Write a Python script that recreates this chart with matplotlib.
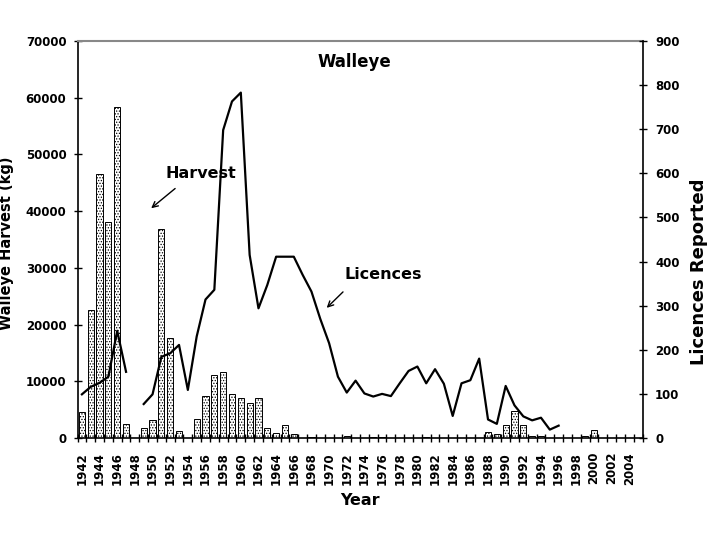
import matplotlib
matplotlib.use('Agg')
import matplotlib.pyplot as plt
import numpy as np

# Walleye harvest (kg) and licences reported, 1942-2005
years = list(range(1942, 2006))
harvest = [4500, 22500, 46500, 38000, 58300, 2400, 0, 1800, 3200, 36900,
           17600, 1200, 0, 3300, 7400, 11100, 11600, 7800, 7100, 6100,
           7100, 1800, 900, 2300, 650, 0, 250, 0, 0, 0,
           350, 0, 0, 150, 150, 0, 0, 0, 0, 150,
           0, 0, 0, 0, 0, 0, 1000, 650, 2250, 4800,
           2250, 400, 400, 0, 0, 0, 0, 400, 1450, 0,
           0, 0, 0, 0]
nan = np.nan
licences = [99, 116, 125, 139, 243, 150, nan, 77, 99, 184,
            192, 211, 109, 230, 314, 336, 698, 763, 783, 415,
            294, 347, 411, 411, 411, 370, 332, 270, 215, 139,
            103, 130, 101, 94, 100, 95, 124, 152, 162, 124,
            156, 123, 50, 124, 131, 180, 42, 32, 118, 74,
            49, 40, 46, 19, 28, nan, nan, nan, nan, nan,
            nan, nan, nan, nan]
year_labels = [str(y) for y in years[::2]]

plt.rcParams['font.family'] = 'DejaVu Sans'
plt.rcParams['font.weight'] = 'bold'
plt.rcParams['hatch.linewidth'] = 0.6
plt.rcParams['hatch.color'] = '#777777'

fig = plt.figure(figsize=(7.2, 5.4), dpi=100)
ax = fig.add_axes([77.5 / 720, 102 / 540, 565 / 720, 397 / 540])

ax.bar(years, harvest, width=0.7, color='white', edgecolor='black',
       linewidth=0.7, hatch='......', zorder=2)
ax.set_xlim(1941.5, 2005.5)
ax.set_ylim(0, 70000)
ax.set_yticks(np.arange(0, 70001, 10000))

ax.set_xticks(years[::2])
ax.set_xticklabels(year_labels, rotation=90, fontsize=8.5, fontweight='bold')
ax.set_xticks(np.arange(1941.5, 2006, 1), minor=True)
ax.tick_params(axis='x', which='major', length=0, pad=10)
ax.tick_params(axis='x', which='minor', direction='inout', length=6, width=1)
ax.tick_params(axis='y', direction='inout', length=6, width=1, pad=5,
               labelsize=8.5)
for lbl in ax.get_yticklabels():
    lbl.set_fontweight('bold')

ax.spines['top'].set_color('#888888')
ax.spines['top'].set_linewidth(1.5)
ax.spines['left'].set_linewidth(1.2)
ax.spines['bottom'].set_linewidth(1.2)
ax.spines['right'].set_visible(False)

ax.set_ylabel('Walleye Harvest (kg)', fontsize=10.5, fontweight='bold')
ax.yaxis.set_label_coords(-0.112, 0.49)
ax.set_xlabel('Year', fontsize=11.5, fontweight='bold')
ax.xaxis.set_label_coords(0.5, -0.139)

ax2 = ax.twinx()
ax2.plot(years, licences, color='black', linewidth=1.6, zorder=3)
ax2.set_ylim(0, 900)
ax2.set_yticks(np.arange(0, 901, 100))
ax2.tick_params(axis='y', direction='inout', length=6, width=1, pad=6,
                labelsize=8.5)
for lbl in ax2.get_yticklabels():
    lbl.set_fontweight('bold')
for s in ['top', 'left', 'bottom']:
    ax2.spines[s].set_visible(False)
ax2.spines['right'].set_linewidth(1.2)
ax2.set_ylabel('Licences Reported', fontsize=13, fontweight='bold')
ax2.yaxis.set_label_coords(1.084, 0.42)

ax.text(0.49, 0.947, 'Walleye', transform=ax.transAxes, ha='center',
        va='center', fontsize=12, fontweight='bold')

ax.annotate('', xy=(1949.6, 40200), xytext=(1952.8, 44300),
            arrowprops=dict(arrowstyle='->', color='black', lw=1))
ax.text(1955.5, 46700, 'Harvest', ha='center', va='center',
        fontsize=11.5, fontweight='bold')
ax.annotate('', xy=(1969.5, 22600), xytext=(1971.8, 26100),
            arrowprops=dict(arrowstyle='->', color='black', lw=1))
ax.text(1976.1, 28750, 'Licences', ha='center', va='center',
        fontsize=11.5, fontweight='bold')

fig.savefig('out.png', dpi=100)
